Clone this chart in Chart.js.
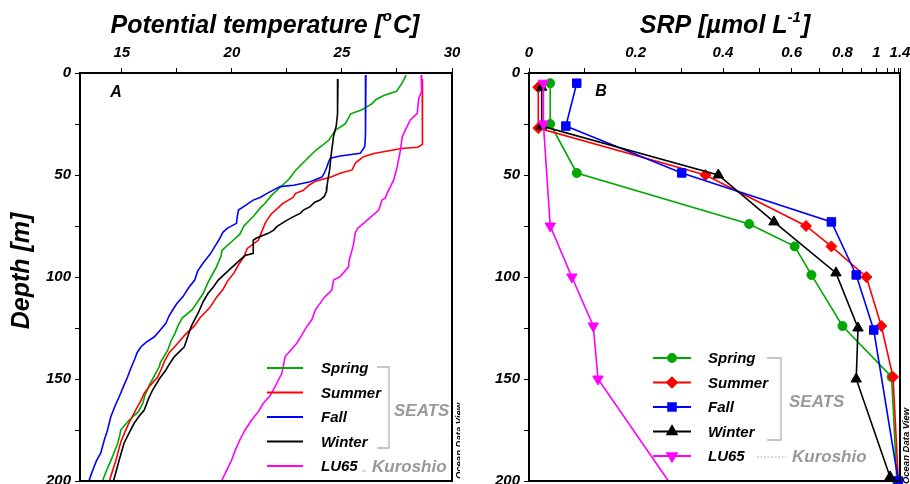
<!DOCTYPE html>
<html>
<head>
<meta charset="utf-8">
<script src="https://cdn.jsdelivr.net/npm/chart.js@4.4.1/dist/chart.umd.min.js"></script>
<style>
  html, body { margin: 0; padding: 0; background: #fff; }
  #wrap { position: relative; width: 910px; height: 484px; overflow: hidden; }
  canvas { position: absolute; top: 0; }
</style>
</head>
<body>
<div id="wrap">
  <canvas id="c1" width="460" height="484" style="left:0px"></canvas>
  <canvas id="c2" width="450" height="484" style="left:460px"></canvas>
</div>
<script>
// ---------------- DATA ----------------
const seriesNames = ['Spring', 'Summer', 'Fall', 'Winter', 'LU65'];

// Panel A: potential temperature profiles (depth m, temperature °C)
const springDepth = [1, 5, 9, 11, 13, 15, 18, 20, 25, 28, 33, 38, 43, 48, 52, 56, 60, 64, 66, 70, 75, 79, 82, 87, 90, 95, 100, 103, 108, 112, 116, 120, 124, 128, 131, 136, 142, 144, 148, 153, 158, 162, 166, 170, 173, 175, 178, 182, 186, 190, 195, 200];
const springTemp  = [27.92, 27.73, 27.48, 26.9, 26.55, 26.37, 25.91, 25.4, 25.15, 24.7, 24.4, 23.8, 23.33, 22.87, 22.6, 22.2, 21.8, 21.5, 21.3, 21.0, 20.55, 20.36, 20.06, 19.55, 19.5, 19.3, 19.05, 18.9, 18.7, 18.45, 18.2, 17.75, 17.55, 17.4, 17.25, 17.08, 16.75, 16.7, 16.5, 16.25, 16.05, 15.95, 15.75, 15.35, 15.1, 14.95, 14.9, 14.8, 14.65, 14.5, 14.3, 14.12];

const summerDepth = [3, 10, 20, 30, 35, 36.4, 37, 38, 39.5, 41, 44, 47.5, 49, 51, 53, 55, 57.5, 59, 61, 64, 66, 69, 72, 74, 78, 82, 86, 90, 94, 98, 102, 106, 110, 115, 120, 124, 128, 133, 137, 141, 145, 149, 153, 157, 161, 165, 169, 173, 177, 181, 185, 190, 195, 200];
const summerTemp  = [28.65, 28.67, 28.66, 28.66, 28.64, 28.45, 27.7, 27.2, 26.45, 25.98, 25.62, 25.46, 24.95, 24.5, 23.8, 23.5, 23.25, 22.9, 22.78, 22.3, 22.11, 21.8, 21.6, 21.5, 21.35, 21.2, 20.7, 20.55, 20.3, 20.1, 19.8, 19.6, 19.3, 19.0, 18.55, 18.3, 17.9, 17.5, 17.16, 16.95, 16.8, 16.63, 16.3, 16.02, 15.85, 15.64, 15.45, 15.26, 15.1, 14.95, 14.85, 14.73, 14.58, 14.43];

const fallDepth = [1, 10, 20, 30, 36, 37.5, 39.4, 40.7, 41.8, 44, 46, 49, 51, 53.3, 55, 55.7, 57.4, 59, 61, 62.3, 65, 67.2, 70, 73.7, 76, 78, 82, 85, 89, 93, 97, 101.5, 105, 109.6, 113, 116.2, 119, 122.7, 126, 129.3, 132, 134.2, 137, 140.7, 145, 149, 153, 158.7, 163, 168.5, 172, 175, 180, 186.4, 190, 193, 197, 200];
const fallTemp  = [26.09, 26.08, 26.07, 26.06, 26.04, 25.95, 25.83, 24.92, 24.47, 24.38, 24.32, 24.2, 24.09, 23.56, 22.8, 22.19, 21.88, 21.6, 21.28, 20.97, 20.6, 20.3, 20.25, 20.21, 19.8, 19.6, 19.4, 19.23, 19.0, 18.7, 18.45, 18.31, 18.05, 17.78, 17.5, 17.31, 17.15, 17.0, 16.75, 16.48, 16.1, 15.87, 15.7, 15.57, 15.4, 15.26, 15.1, 14.88, 14.7, 14.5, 14.42, 14.35, 14.2, 14.04, 13.85, 13.74, 13.6, 13.51];

const winterDepth = [3, 10, 20, 26, 31, 36, 41, 47.5, 52.5, 55.7, 58, 60.5, 62.3, 63.5, 65.5, 67.2, 68.8, 70.4, 72.5, 75.3, 77, 78.6, 81, 82, 88.4, 89.5, 91.7, 95.8, 101.5, 105, 108, 112, 117.8, 121, 124.3, 129, 134.2, 139, 142, 145.6, 150, 155.4, 160, 165.2, 168, 171.7, 176, 181.5, 186, 189.7, 195, 200];
const winterTemp  = [24.82, 24.81, 24.79, 24.74, 24.62, 24.56, 24.5, 24.44, 24.36, 24.32, 24.3, 24.2, 24.0, 23.75, 23.56, 23.25, 23.1, 22.8, 22.45, 22.04, 21.9, 21.65, 21.1, 20.97, 20.97, 20.6, 20.36, 19.95, 19.38, 19.15, 18.92, 18.7, 18.46, 18.3, 18.15, 18.0, 17.84, 17.39, 17.2, 17.0, 16.7, 16.4, 16.2, 16.02, 15.8, 15.56, 15.35, 15.1, 14.98, 14.88, 14.75, 14.62];

const lu65Depth = [1, 9, 12.4, 19.8, 23, 27.9, 31.2, 37.7, 45.9, 52.5, 59, 61.4, 62.3, 67.2, 73.7, 76.1, 78.6, 83.5, 85.1, 91.7, 95, 99.8, 101.5, 106.4, 110, 116, 121, 124.3, 132.5, 139, 143, 147.2, 153.8, 158, 161.9, 166, 170.1, 175, 179.9, 185, 189.7, 195, 200];
const lu65Temp  = [28.6, 28.62, 28.49, 28.42, 28.11, 27.88, 27.74, 27.66, 27.51, 27.35, 27.05, 26.97, 26.82, 26.67, 25.98, 25.72, 25.6, 25.53, 25.5, 25.33, 25.3, 24.92, 24.62, 24.54, 24.2, 23.8, 23.63, 23.4, 22.95, 22.42, 22.35, 22.27, 21.96, 21.75, 21.43, 21.2, 20.9, 20.6, 20.36, 20.15, 19.99, 19.75, 19.53];

// Panel B: SRP (µmol/L) at sampling depths
const springSrpDepth = [5, 25, 49, 74, 85, 99, 124, 149, 200];
const springSrp      = [0.037, 0.037, 0.085, 0.47, 0.61, 0.67, 0.80, 1.15, 1.24];
const summerSrpDepth = [7, 27, 50, 75, 85, 100, 124, 149, 200];
const summerSrp      = [0.016, 0.016, 0.356, 0.65, 0.75, 0.93, 1.04, 1.17, 1.28];
const fallSrpDepth   = [5, 26, 49, 73, 99, 126, 200];
const fallSrp        = [0.085, 0.065, 0.30, 0.75, 0.87, 0.98, 1.28];
const winterSrpDepth = [7, 26, 50, 73, 98, 125, 150, 198];
const winterSrp      = [0.022, 0.022, 0.388, 0.543, 0.77, 0.88, 0.87, 1.13];
const lu65SrpDepth   = [5, 25, 75, 100, 124, 150, 200];
const lu65Srp        = [0.025, 0.025, 0.037, 0.076, 0.116, 0.125, 0.27];

// Tick values
const tempTicks = [15, 17.5, 20, 22.5, 25, 27.5, 30];
const tempLabeled = [15, 20, 25, 30];
const srpTicks = [0, 0.1, 0.2, 0.3, 0.4, 0.5, 0.6, 0.7, 0.8, 0.9, 1, 1.1, 1.2, 1.3, 1.4];
const srpLabeled = [0, 0.2, 0.4, 0.6, 0.8, 1, 1.4];
const depthTicks = [0, 25, 50, 75, 100, 125, 150, 175, 200];
const depthLabeled = [0, 50, 100, 150, 200];

// ---------------- STYLE ----------------
const COLORS = ['#00a800', '#ff0000', '#0000ff', '#000000', '#ff00ff'];
const MARKERS = ['circle', 'rectRot', 'rect', 'triangle', 'triangle'];
const MARK_R = [4.5, 5.5, 6, 6, 6];
const LEG_R = [4, 5, 5.5, 5.5, 5.5];
const MARK_ROT = [0, 0, 0, 0, 180];
const FAM = '"Liberation Sans", Arial, sans-serif';
const f = (sz) => 'italic bold ' + sz + 'px ' + FAM;
const tickFont = { family: FAM, size: 15, style: 'italic', weight: 'bold' };

// Compressed (power) axis used by panel B
const POW = 2.2;
class CompressedScale extends Chart.LinearScale {
  getPixelForValue(value) {
    if (value === null || value === undefined || isNaN(value)) return NaN;
    let d = (value - this.min) / (this.max - this.min);
    d = Math.min(Math.max(d, 0), 1);
    return this.getPixelForDecimal(1 - Math.pow(1 - d, POW));
  }
  getValueForPixel(pixel) {
    const d = Math.min(Math.max(this.getDecimalForPixel(pixel), 0), 1);
    return this.min + (this.max - this.min) * (1 - Math.pow(1 - d, 1 / POW));
  }
}
CompressedScale.id = 'compressed';
CompressedScale.defaults = Chart.LinearScale.defaults;
Chart.register(CompressedScale);

function pairs(xs, ys) { return xs.map((x, i) => ({ x: x, y: ys[i] })); }

function drawRich(ctx, parts, cx, baseline) {
  let total = 0;
  parts.forEach(p => { ctx.font = f(p.size); p.w = ctx.measureText(p.t).width; total += p.w + (p.gap || 0); });
  let x = cx - total / 2;
  ctx.textAlign = 'left';
  ctx.textBaseline = 'alphabetic';
  ctx.fillStyle = '#000';
  parts.forEach(p => { ctx.font = f(p.size); ctx.fillText(p.t, x, baseline + (p.dy || 0)); x += p.w + (p.gap || 0); });
}

function frame(chart) {
  const { ctx, chartArea: a } = chart;
  ctx.save();
  ctx.strokeStyle = '#000';
  ctx.lineWidth = 2;
  ctx.strokeRect(a.left, a.top, a.right - a.left, a.bottom - a.top);
  ctx.restore();
}

function vText(ctx, text, x, y, size) {
  ctx.save();
  ctx.translate(x, y);
  ctx.rotate(-Math.PI / 2);
  ctx.font = f(size);
  ctx.fillStyle = '#000';
  ctx.textAlign = 'center';
  ctx.textBaseline = 'middle';
  ctx.fillText(text, 0, 0);
  ctx.restore();
}

function bracket(ctx, x1, x2, y1, y2) {
  ctx.save();
  ctx.strokeStyle = '#b4b4b4';
  ctx.lineWidth = 1.3;
  ctx.beginPath();
  ctx.moveTo(x1, y1); ctx.lineTo(x2, y1); ctx.lineTo(x2, y2); ctx.lineTo(x1, y2);
  ctx.stroke();
  ctx.restore();
}

function greyText(ctx, text, x, y, size) {
  ctx.save();
  ctx.font = f(size);
  ctx.fillStyle = '#999999';
  ctx.textAlign = 'left';
  ctx.textBaseline = 'middle';
  ctx.fillText(text, x, y);
  ctx.restore();
}

const noPad = s => { s.paddingLeft = 0; s.paddingRight = 0; s.paddingTop = 0; s.paddingBottom = 0; };

const commonY = (widthPx) => ({
  type: 'linear', position: 'left', reverse: true, min: 0, max: 200,
  afterFit: s => { s.width = widthPx; noPad(s); },
  afterBuildTicks: s => { s.ticks = depthTicks.map(v => ({ value: v })); },
  ticks: { font: tickFont, color: '#000', padding: 4, autoSkip: false,
           callback: v => depthLabeled.includes(v) ? String(v) : '' },
  grid: { drawOnChartArea: false, drawTicks: true, tickLength: 5, color: '#000', lineWidth: 1 },
  border: { display: false }
});

// ---------------- PANEL A ----------------
const tempSets = [
  [springDepth, springTemp], [summerDepth, summerTemp], [fallDepth, fallTemp],
  [winterDepth, winterTemp], [lu65Depth, lu65Temp]
];

const panelA = {
  id: 'panelA',
  afterDraw(chart) {
    const ctx = chart.ctx;
    frame(chart);
    drawRich(ctx, [
      { t: 'Potential temperature [', size: 25 },
      { t: 'o', size: 15, dy: -12, gap: 1 },
      { t: 'C]', size: 25 }
    ], 265, 33);
    vText(ctx, 'Depth [m]', 22, 271, 25);
    ctx.save();
    ctx.font = f(16); ctx.fillStyle = '#000'; ctx.textAlign = 'center'; ctx.textBaseline = 'middle';
    ctx.fillText('A', 116, 93);
    // legend
    ctx.font = f(15); ctx.textAlign = 'left';
    seriesNames.forEach((n, i) => {
      const y = 368 + i * 24.5;
      ctx.strokeStyle = COLORS[i]; ctx.lineWidth = 2;
      ctx.beginPath(); ctx.moveTo(267, y); ctx.lineTo(303, y); ctx.stroke();
      ctx.fillStyle = '#000';
      ctx.fillText(n, 321, y + 1);
    });
    ctx.restore();
    bracket(ctx, 377, 389, 367, 448);
    greyText(ctx, 'SEATS', 394, 411, 17);
    ctx.save(); ctx.strokeStyle = '#b4b4b4'; ctx.lineWidth = 1;
    ctx.beginPath(); ctx.moveTo(362, 471); ctx.lineTo(366, 471); ctx.stroke(); ctx.restore();
    greyText(ctx, 'Kuroshio', 372, 467, 17);
    vText(ctx, 'Ocean Data View', 459, 441, 9.5);
  }
};

new Chart(document.getElementById('c1'), {
  type: 'scatter',
  data: {
    datasets: tempSets.map((s, i) => ({
      label: seriesNames[i],
      data: pairs(s[1], s[0]),
      showLine: true, borderColor: COLORS[i], borderWidth: 1.6,
      pointRadius: 0, tension: 0, order: 5 - i
    }))
  },
  options: {
    responsive: false, animation: false,
    layout: { autoPadding: false, padding: { left: 0, top: 0, right: 8, bottom: 3 } },
    plugins: { legend: { display: false }, tooltip: { enabled: false } },
    scales: {
      x: {
        type: 'linear', position: 'top', min: 13.1, max: 30,
        afterFit: s => { s.height = 73; noPad(s); },
        afterBuildTicks: s => { s.ticks = tempTicks.map(v => ({ value: v })); },
        ticks: { font: tickFont, color: '#000', padding: 6, autoSkip: false, maxRotation: 0,
                 callback: v => tempLabeled.includes(v) ? String(v) : '' },
        grid: { drawOnChartArea: false, drawTicks: true, tickLength: 5, color: '#000' },
        border: { display: false }
      },
      y: commonY(80)
    }
  },
  plugins: [panelA]
});

// ---------------- PANEL B ----------------
const srpSets = [
  [springSrpDepth, springSrp], [summerSrpDepth, summerSrp], [fallSrpDepth, fallSrp],
  [winterSrpDepth, winterSrp], [lu65SrpDepth, lu65Srp]
];

const panelB = {
  id: 'panelB',
  afterDraw(chart) {
    const ctx = chart.ctx;
    frame(chart);
    drawRich(ctx, [
      { t: 'SRP [µmol L', size: 25 },
      { t: '-1', size: 15, dy: -11, gap: 1 },
      { t: ']', size: 25 }
    ], 265, 33);
    ctx.save();
    ctx.font = f(16); ctx.fillStyle = '#000'; ctx.textAlign = 'center'; ctx.textBaseline = 'middle';
    ctx.fillText('B', 141, 92);
    ctx.font = f(15); ctx.textAlign = 'left';
    seriesNames.forEach((n, i) => {
      const y = 358 + i * 24.5;
      ctx.strokeStyle = COLORS[i]; ctx.fillStyle = COLORS[i]; ctx.lineWidth = 1.8;
      ctx.beginPath(); ctx.moveTo(193, y); ctx.lineTo(231, y); ctx.stroke();
      Chart.helpers.drawPoint(ctx, { pointStyle: MARKERS[i], radius: LEG_R[i], rotation: MARK_ROT[i], borderWidth: 1 }, 212, y);
      ctx.fillStyle = '#000';
      ctx.fillText(n, 248, y + 1);
    });
    ctx.restore();
    bracket(ctx, 307, 321, 358, 440);
    greyText(ctx, 'SEATS', 329, 402, 17);
    ctx.save(); ctx.strokeStyle = '#b4b4b4'; ctx.lineWidth = 1; ctx.setLineDash([2, 1.5]);
    ctx.beginPath(); ctx.moveTo(297, 457); ctx.lineTo(326, 457); ctx.stroke(); ctx.restore();
    greyText(ctx, 'Kuroshio', 332, 457, 17);
    vText(ctx, 'Ocean Data View', 446, 446, 9.5);
  }
};

new Chart(document.getElementById('c2'), {
  type: 'scatter',
  data: {
    datasets: srpSets.map((s, i) => ({
      label: seriesNames[i],
      data: pairs(s[1], s[0]),
      showLine: true, borderColor: COLORS[i], backgroundColor: COLORS[i], borderWidth: 1.6,
      pointStyle: MARKERS[i], pointRotation: MARK_ROT[i], pointBorderWidth: 1,
      pointRadius: s[0].map((d, j) => (i === 4 && j === s[0].length - 1) ? 0 : MARK_R[i]),
      tension: 0, order: 5 - i, clip: 8
    }))
  },
  options: {
    responsive: false, animation: false,
    layout: { autoPadding: false, padding: { left: 0, top: 0, right: 10, bottom: 3 } },
    plugins: { legend: { display: false }, tooltip: { enabled: false } },
    scales: {
      x: {
        type: 'compressed', position: 'top', min: 0, max: 1.4,
        afterFit: s => { s.height = 73; noPad(s); },
        afterBuildTicks: s => { s.ticks = srpTicks.map(v => ({ value: v })); },
        ticks: { font: tickFont, color: '#000', padding: 6, autoSkip: false, maxRotation: 0, minRotation: 0,
                 callback: v => srpLabeled.includes(v) ? String(v) : '' },
        grid: { drawOnChartArea: false, drawTicks: true, tickLength: 5, color: '#000' },
        border: { display: false }
      },
      y: commonY(69)
    }
  },
  plugins: [panelB]
});
</script>
</body>
</html>
